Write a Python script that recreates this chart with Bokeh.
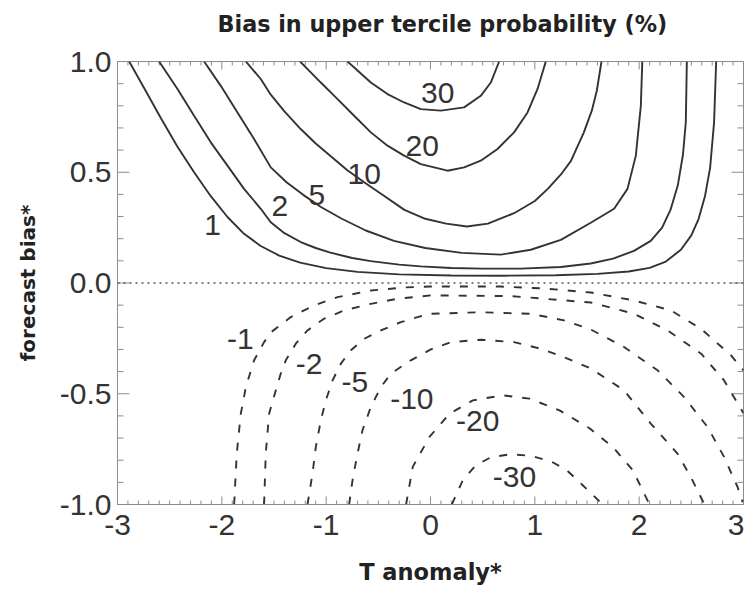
from bokeh.plotting import figure
from bokeh.models import Range1d, FixedTicker, Span, ColumnDataSource, Title
from bokeh.core.properties import value
from bokeh.embed import file_html
from bokeh.resources import INLINE

title_text = "Bias in upper tercile probability (%)"
x_label = "T anomaly*"
y_label = "forecast bias*"

x_ticks = [-3, -2, -1, 0, 1, 2, 3]
x_tick_labels = ["-3", "-2", "-1", "0", "1", "2", "3"]
y_ticks = [-1.0, -0.5, 0.0, 0.5, 1.0]
y_tick_labels = ["-1.0", "-0.5", "0.0", "0.5", "1.0"]

# positive contours (solid)
p1_x = [-2.888, -2.745, -2.585, -2.425, -2.266, -2.106, -1.946, -1.787, -1.627, -1.45, -1.25, -1.0, -0.7, -0.3, 0.2, 0.7, 1.2, 1.6, 1.9, 2.1, 2.25, 2.4, 2.5, 2.57, 2.63, 2.68, 2.718, 2.738]
p1_y = [1.0, 0.880, 0.745, 0.615, 0.500, 0.392, 0.298, 0.222, 0.167, 0.124, 0.092, 0.067, 0.050, 0.039, 0.034, 0.033, 0.035, 0.041, 0.052, 0.068, 0.095, 0.150, 0.215, 0.290, 0.390, 0.520, 0.725, 1.0]
p2_x = [-2.601, -2.425, -2.266, -2.106, -1.946, -1.787, -1.627, -1.531, -1.40, -1.244, -1.10, -0.968, -0.75, -0.572, -0.30, -0.093, 0.2, 0.5, 0.866, 1.249, 1.536, 1.75, 1.95, 2.111, 2.22, 2.30, 2.37, 2.42, 2.447, 2.457]
p2_y = [1.0, 0.876, 0.755, 0.635, 0.530, 0.425, 0.335, 0.274, 0.225, 0.185, 0.158, 0.138, 0.113, 0.099, 0.083, 0.075, 0.068, 0.065, 0.065, 0.072, 0.088, 0.110, 0.145, 0.190, 0.250, 0.330, 0.440, 0.580, 0.725, 1.0]
p5_x = [-2.170, -2.010, -1.850, -1.691, -1.531, -1.38, -1.22, -1.05, -0.85, -0.62, -0.35, -0.05, 0.3, 0.674, 0.961, 1.249, 1.536, 1.76, 1.888, 1.968, 2.016, 2.030]
p5_y = [1.0, 0.890, 0.770, 0.650, 0.522, 0.455, 0.398, 0.343, 0.290, 0.237, 0.190, 0.158, 0.136, 0.128, 0.150, 0.195, 0.272, 0.335, 0.425, 0.575, 0.800, 1.0]
p10_x = [-1.770, -1.627, -1.531, -1.40, -1.244, -1.10, -0.95, -0.80, -0.636, -0.45, -0.25, -0.05, 0.15, 0.35, 0.55, 0.801, 1.00, 1.124, 1.25, 1.345, 1.469, 1.546, 1.594, 1.639]
p10_y = [1.0, 0.921, 0.850, 0.775, 0.695, 0.630, 0.570, 0.510, 0.455, 0.395, 0.330, 0.290, 0.268, 0.255, 0.268, 0.315, 0.370, 0.425, 0.490, 0.550, 0.679, 0.778, 0.868, 1.0]
p20_x = [-1.250, -1.051, -0.891, -0.732, -0.572, -0.412, -0.253, -0.093, 0.163, 0.322, 0.482, 0.642, 0.801, 0.930, 1.026, 1.105]
p20_y = [1.0, 0.905, 0.830, 0.755, 0.680, 0.620, 0.575, 0.537, 0.507, 0.522, 0.552, 0.605, 0.680, 0.770, 0.876, 1.0]
p30_x = [-0.795, -0.572, -0.412, -0.253, -0.093, 0.099, 0.322, 0.482, 0.578, 0.658]
p30_y = [1.0, 0.905, 0.853, 0.815, 0.785, 0.778, 0.793, 0.845, 0.905, 1.0]

# negative contours (dashed)
n1_x = [-1.882, -1.857, -1.818, -1.770, -1.691, -1.595, -1.531, -1.339, -1.116, -0.891, -0.572, -0.253, 0.003, 0.674, 1.1, 1.536, 1.952, 2.306, 2.593, 2.881, 3.0]
n1_y = [-1.0, -0.770, -0.590, -0.470, -0.349, -0.267, -0.223, -0.154, -0.101, -0.064, -0.034, -0.020, -0.016, -0.016, -0.025, -0.043, -0.079, -0.124, -0.207, -0.327, -0.395]
n2_x = [-1.595, -1.579, -1.547, -1.483, -1.435, -1.387, -1.291, -1.179, -1.020, -0.828, -0.572, -0.316, 0.003, 0.770, 1.536, 1.952, 2.272, 2.594, 2.814, 3.0]
n2_y = [-1.0, -0.770, -0.590, -0.485, -0.409, -0.349, -0.274, -0.214, -0.161, -0.124, -0.094, -0.071, -0.056, -0.059, -0.088, -0.139, -0.214, -0.319, -0.440, -0.588]
n5_x = [-1.179, -1.131, -1.099, -1.051, -1.003, -0.939, -0.859, -0.763, -0.636, -0.476, -0.285, -0.125, 0.003, 0.482, 0.961, 1.281, 1.536, 1.856, 2.176, 2.431, 2.655, 2.814, 2.943, 2.993]
n5_y = [-1.0, -0.860, -0.740, -0.620, -0.530, -0.440, -0.364, -0.304, -0.252, -0.214, -0.177, -0.154, -0.139, -0.132, -0.139, -0.169, -0.210, -0.289, -0.394, -0.515, -0.650, -0.785, -0.921, -0.990]
n10_x = [-0.780, -0.747, -0.706, -0.652, -0.572, -0.476, -0.380, -0.189, 0.003, 0.195, 0.482, 0.801, 1.058, 1.281, 1.536, 1.856, 2.111, 2.367, 2.495, 2.626]
n10_y = [-1.0, -0.890, -0.785, -0.665, -0.560, -0.470, -0.409, -0.349, -0.300, -0.267, -0.256, -0.267, -0.297, -0.335, -0.386, -0.485, -0.635, -0.770, -0.876, -1.0]
n20_x = [-0.234, -0.170, -0.010, 0.182, 0.406, 0.693, 0.949, 1.237, 1.524, 1.747, 1.939, 2.099]
n20_y = [-1.0, -0.830, -0.695, -0.590, -0.530, -0.507, -0.522, -0.575, -0.656, -0.740, -0.845, -1.0]
n30_x = [0.204, 0.310, 0.434, 0.578, 0.770, 0.961, 1.153, 1.296, 1.459, 1.651]
n30_y = [-1.0, -0.890, -0.823, -0.787, -0.773, -0.780, -0.805, -0.841, -0.913, -1.0]

# contour labels
label_text = ["1", "2", "5", "10", "20", "30", "-1", "-2", "-5", "-10", "-20", "-30"]
label_x = [-2.089, -1.444, -1.090, -0.636, -0.080, 0.070, -1.823, -1.163, -0.726, -0.179, 0.453, 0.805]
label_y = [0.264, 0.349, 0.398, 0.492, 0.620, 0.860, -0.252, -0.367, -0.447, -0.522, -0.623, -0.878]

solid = ColumnDataSource(dict(xs=[p1_x, p2_x, p5_x, p10_x, p20_x, p30_x],
                              ys=[p1_y, p2_y, p5_y, p10_y, p20_y, p30_y]))
dashed = ColumnDataSource(dict(xs=[n1_x, n2_x, n5_x, n10_x, n20_x, n30_x],
                               ys=[n1_y, n2_y, n5_y, n10_y, n20_y, n30_y]))
labels = ColumnDataSource(dict(x=label_x, y=label_y, text=label_text))

AX = "#8c8c8c"
INK = "#333333"

W, H = 744, 591
BL, BR, BT, BB = 117, 1, 61, 87

p = figure(width=W, height=H, title=None,
           x_range=Range1d(x_ticks[0], x_ticks[-1]), y_range=Range1d(y_ticks[0], y_ticks[-1]),
           output_backend="svg", toolbar_location=None,
           min_border_left=BL, min_border_right=BR, min_border_top=BT, min_border_bottom=BB)
p.background_fill_color = "white"
p.border_fill_color = "white"
p.outline_line_color = AX
p.xgrid.grid_line_color = None
p.ygrid.grid_line_color = None

x_minor = [round(x_ticks[0] + 0.1 * i, 1) for i in range(61)]
y_minor = [round(y_ticks[0] + 0.1 * i, 1) for i in range(21)]
xticker = FixedTicker(ticks=x_ticks, minor_ticks=x_minor)
yticker = FixedTicker(ticks=y_ticks, minor_ticks=y_minor)


def style(ax):
    ax.major_tick_in = 0
    ax.major_tick_out = 0
    ax.minor_tick_in = 0
    ax.minor_tick_out = 0
    ax.axis_line_color = AX
    ax.axis_line_width = 1


xa = p.xaxis[0]
xa.ticker = xticker
xa.major_label_overrides = {t: s for t, s in zip(x_ticks, x_tick_labels)}
style(xa)
xa.major_label_text_font = "Liberation Sans"
xa.major_label_text_font_size = "30px"
xa.major_label_text_color = INK
xa.major_label_standoff = 10
xa.axis_label = x_label
xa.axis_label_text_font = "DejaVu Sans"
xa.axis_label_text_font_style = "bold"
xa.axis_label_text_font_size = "22.5px"
xa.axis_label_text_color = "#222222"
xa.axis_label_standoff = 21

ya = p.yaxis[0]
ya.ticker = yticker
ya.major_label_overrides = {t: s for t, s in zip(y_ticks, y_tick_labels)}
style(ya)
ya.major_label_text_font = "Liberation Sans"
ya.major_label_text_font_size = "30px"
ya.major_label_text_color = INK
ya.major_label_standoff = 6
ya.axis_label = y_label
ya.axis_label_text_font = "DejaVu Sans"
ya.axis_label_text_font_style = "bold"
ya.axis_label_text_font_size = "20px"
ya.axis_label_text_color = "#222222"
ya.axis_label_standoff = 17

# title: a thin spacer next to the frame, then the title text above it
p.add_layout(Title(text=" ", text_font_size="1px", standoff=22), "above")
p.add_layout(Title(text=title_text, align="left", offset=100, standoff=0,
                   text_font="DejaVu Sans", text_font_style="bold",
                   text_font_size="22.3px", text_color="#222222"), "above")

# inward tick marks on all four sides
fw, fh = W - BL - BR, H - BT - BB
ux = (x_ticks[-1] - x_ticks[0]) / fw      # data units per pixel along x
uy = (y_ticks[-1] - y_ticks[0]) / fh      # data units per pixel along y
x0, x1, y0, y1 = x_ticks[0], x_ticks[-1], y_ticks[0], y_ticks[-1]
tx0, tx1, ty0, ty1 = [], [], [], []
for xv in x_minor:
    ln = (8 if xv in x_ticks else 4) * uy
    tx0 += [xv, xv]; tx1 += [xv, xv]; ty0 += [y0, y1]; ty1 += [y0 + ln, y1 - ln]
for yv in y_minor:
    ln = (12 if yv in y_ticks else 6) * ux
    tx0 += [x0, x1]; tx1 += [x0 + ln, x1 - ln]; ty0 += [yv, yv]; ty1 += [yv, yv]
p.segment(x0=tx0, y0=ty0, x1=tx1, y1=ty1, line_color=AX, line_width=1)

p.add_layout(Span(location=0, dimension="width", line_color="#555555",
                  line_dash="2 4", line_width=1.5))

p.multi_line(xs="xs", ys="ys", source=solid, line_color=INK, line_width=1.9)
p.multi_line(xs="xs", ys="ys", source=dashed, line_color=INK, line_width=1.9,
             line_dash="8 10")
p.text(x="x", y="y", text="text", source=labels,
       text_font=value("Liberation Sans"), text_font_size=value("30px"),
       text_align="center", text_baseline="middle", text_color=INK)

open("out.html", "w").write(file_html(p, INLINE))
